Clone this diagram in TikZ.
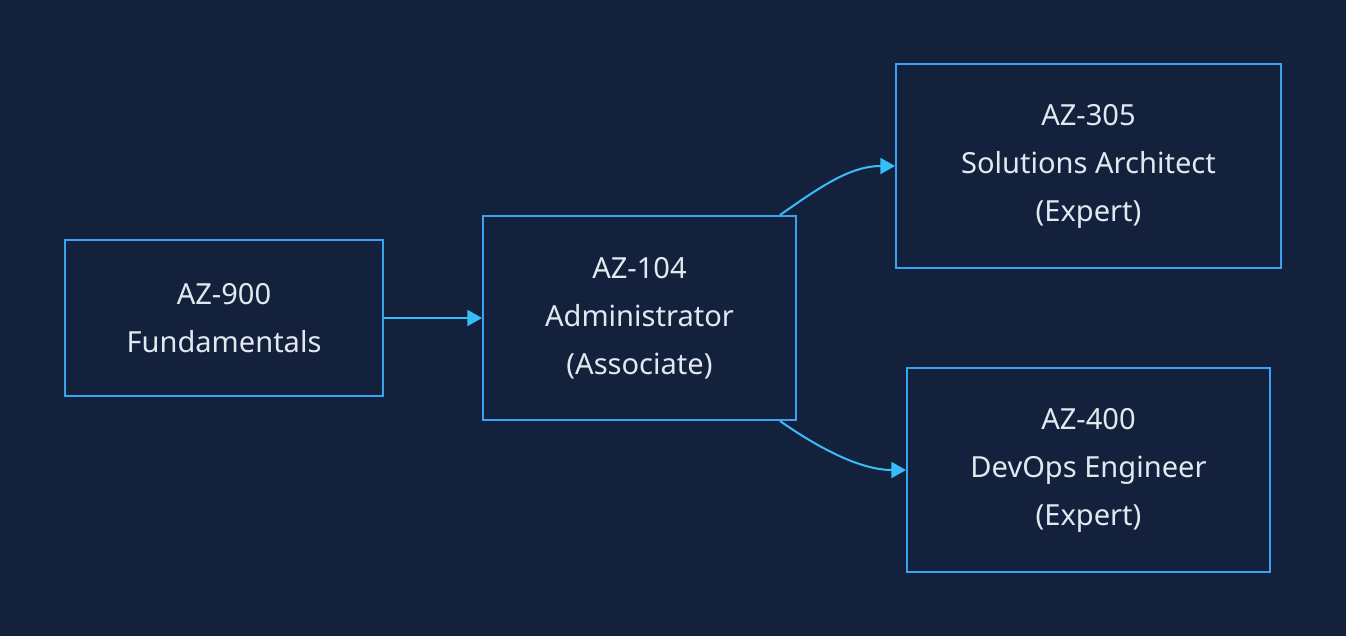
\documentclass[tikz,border=0pt]{standalone}
\usepackage{fontspec}
\setmainfont{Noto Sans}
\usetikzlibrary{arrows.meta}
\definecolor{bg}{HTML}{14213D}
\definecolor{boxc}{HTML}{3AA2F2}
\definecolor{edgec}{HTML}{38BDF8}
\definecolor{txt}{HTML}{E2E8F0}
\begin{document}
\begin{tikzpicture}[x=0.75pt,y=-0.75pt,
  card/.style={draw=boxc,line width=1.5pt,inner sep=0pt,text=txt,align=center,
    font=\fontsize{21.8}{36}\selectfont},
  link/.style={draw=edgec,line width=1.5pt,-{Triangle[length=11pt,width=12pt]}}]
\fill[bg] (0,0) rectangle (1346,636);
\useasboundingbox (0,0) rectangle (1346,636);
\node[card,minimum width=318*0.75pt,minimum height=156*0.75pt] (a900) at (224,318) {AZ-900\\Fundamentals};
\node[card,minimum width=313*0.75pt,minimum height=204*0.75pt] (a104) at (639.5,318) {AZ-104\\Administrator\\(Associate)};
\node[card,minimum width=385*0.75pt,minimum height=204*0.75pt] (a305) at (1088.5,166) {AZ-305\\Solutions Architect\\(Expert)};
\node[card,minimum width=363*0.75pt,minimum height=204*0.75pt] (a400) at (1088.5,470) {AZ-400\\DevOps Engineer\\(Expert)};
\draw[link] (a900.east) -- (a104.west);
\draw[link] ([xshift=-17*0.75pt]a104.north east) .. controls +(40,-28) and +(-45,0) .. (a305.west);
\draw[link] ([xshift=-17*0.75pt]a104.south east) .. controls +(40,28) and +(-45,0) .. (a400.west);
\end{tikzpicture}
\end{document}
